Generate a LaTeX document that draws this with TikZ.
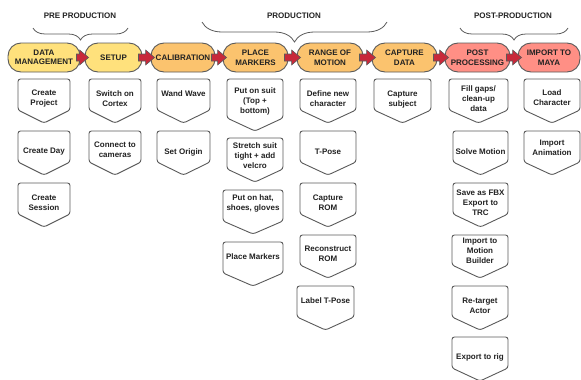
\documentclass[tikz,border=0pt]{standalone}
\usepackage{fontspec}
\setmainfont{Liberation Sans}
\usetikzlibrary{calc,decorations.pathreplacing}
\definecolor{yel}{HTML}{FFE17C}
\definecolor{org}{HTML}{FBC36E}
\definecolor{sal}{HTML}{FF8F85}
\definecolor{arrred}{HTML}{C8283A}
\definecolor{edge}{HTML}{5A5A5A}
\definecolor{ink}{HTML}{222222}
\tikzset{
  pill/.style={draw=edge, line width=0.9pt, rounded corners=13pt, minimum height=29pt,
    inner sep=0pt, align=center, text=ink, font=\fontsize{8}{9.5}\selectfont\bfseries},
  boxline/.style={draw=edge, line width=0.9pt, fill=white, rounded corners=2.5pt},
  subtxt/.style={align=center, inner sep=0pt, text=ink, font=\fontsize{8}{10}\selectfont\bfseries},
  phase/.style={inner sep=0pt, text=ink, font=\fontsize{8}{10}\selectfont\bfseries},
  bracebig/.style={draw=edge, line width=0.8pt, decorate, decoration={brace, mirror, amplitude=#1}},
  flowarr/.style={draw=edge, line width=0.6pt, fill=arrred},
}
\newcommand\subbox[8]{%
  \draw[boxline] (#2,#5) -- (#2,#4) -- (#3,#4) -- (#3,#5) -- ({(#2+#3)/2},#6) -- cycle;
  \node[subtxt] (#1) at ({(#2+#3)/2},#7) {#8};}
\newcommand\flowarrow[2]{%
  \draw[flowarr] ($(#1.east)+(-4pt,3.5pt)$) -- ($(#2.west)+(-5pt,3.5pt)$) -- ($(#2.west)+(-5pt,7.5pt)$)
    -- ($(#2.west)+(4pt,0pt)$) -- ($(#2.west)+(-5pt,-7.5pt)$) -- ($(#2.west)+(-5pt,-3.5pt)$)
    -- ($(#1.east)+(-4pt,-3.5pt)$) -- cycle;}
\begin{document}
\begin{tikzpicture}[x=1pt,y=-1pt]
\useasboundingbox (0,0) rectangle (581,380);
% phase labels and braces
\node[phase] (pre) at (80,16) {PRE PRODUCTION};
\node[phase] (prod) at (294,16) {PRODUCTION};
\node[phase] (post) at (513,16) {POST-PRODUCTION};
\coordinate (preL) at (33,28); \coordinate (preR) at (128,28);
\coordinate (prodL) at (202,22); \coordinate (prodR) at (387,22);
\coordinate (postL) at (460,28); \coordinate (postR) at (568,28);
\draw[bracebig=12pt] (preL) -- (preR);
\draw[bracebig=20pt] (prodL) -- (prodR);
\draw[bracebig=12pt] (postL) -- (postR);
% pills
\node[pill, fill=yel, minimum width=72pt] (dm) at (44,57.5) {DATA\\MANAGEMENT};
\node[pill, fill=yel, minimum width=57pt] (setup) at (113.5,57.5) {SETUP};
\node[pill, fill=org, minimum width=64pt] (calib) at (183,57.5) {CALIBRATION};
\node[pill, fill=org, minimum width=65pt] (pm) at (255.5,57.5) {PLACE\\MARKERS};
\node[pill, fill=org, minimum width=66pt] (rom) at (330,57.5) {RANGE OF\\MOTION};
\node[pill, fill=org, minimum width=65pt] (cd) at (404.5,57.5) {CAPTURE\\DATA};
\node[pill, fill=sal, minimum width=65pt] (pp) at (477.5,57.5) {POST\\PROCESSING};
\node[pill, fill=sal, minimum width=62pt] (itm) at (549,57.5) {IMPORT TO\\MAYA};
\flowarrow{dm}{setup}
\flowarrow{setup}{calib}
\flowarrow{calib}{pm}
\flowarrow{pm}{rom}
\flowarrow{rom}{cd}
\flowarrow{cd}{pp}
\flowarrow{pp}{itm}
% column 1
\subbox{c1a}{18}{70}{79}{110}{123}{99}{Create\\Project}
\subbox{c1b}{18}{70}{131}{162}{175}{152}{Create Day}
\subbox{c1c}{18}{70}{183}{214}{227}{203}{Create\\Session}
% column 2
\subbox{c2a}{89}{141}{79}{110}{123}{99}{Switch on\\Cortex}
\subbox{c2b}{89}{141}{131}{162}{175}{150}{Connect to\\cameras}
% column 3
\subbox{c3a}{157}{210}{79}{110}{123}{94}{Wand Wave}
\subbox{c3b}{157}{210}{131}{162}{175}{152}{Set Origin}
% column 4
\subbox{c4a}{227}{283}{79}{118}{131}{101}{Put on suit\\(Top +\\bottom)}
\subbox{c4b}{227}{283}{138}{169}{182}{156}{Stretch suit\\tight + add\\velcro}
\subbox{c4c}{223}{283}{190}{221}{234}{203}{Put on hat,\\shoes, gloves}
\subbox{c4d}{223}{283}{242}{273}{286}{257}{Place Markers}
% column 5
\subbox{c5a}{300}{356}{79}{110}{123}{98.5}{Define new\\character}
\subbox{c5b}{300}{356}{131}{162}{175}{152}{T-Pose}
\subbox{c5c}{300}{356}{183}{214}{227}{203}{Capture\\ROM}
\subbox{c5d}{300}{356}{235}{265}{278}{254}{Reconstruct\\ROM}
\subbox{c5e}{297}{354}{286}{317}{330}{301}{Label T-Pose}
% column 6
\subbox{c6a}{374}{431}{79}{110}{123}{99.5}{Capture\\subject}
% column 7
\subbox{c7a}{449}{508}{79}{110}{123}{98.5}{Fill gaps/\\clean-up\\data}
\subbox{c7b}{453}{508}{131}{162}{175}{152}{Solve Motion}
\subbox{c7c}{453}{508}{183}{214}{227}{203}{Save as FBX\\Export to\\TRC}
\subbox{c7d}{452}{508}{235}{265}{278}{251}{Import to\\Motion\\Builder}
\subbox{c7e}{452}{508}{286}{317}{330}{306}{Re-target\\Actor}
\subbox{c7f}{452}{508}{337}{368}{381}{357}{Export to rig}
% column 8
\subbox{c8a}{524}{580}{79}{110}{123}{98}{Load\\Character}
\subbox{c8b}{524}{580}{131}{162}{175}{148}{Import\\Animation}
\end{tikzpicture}
\end{document}
